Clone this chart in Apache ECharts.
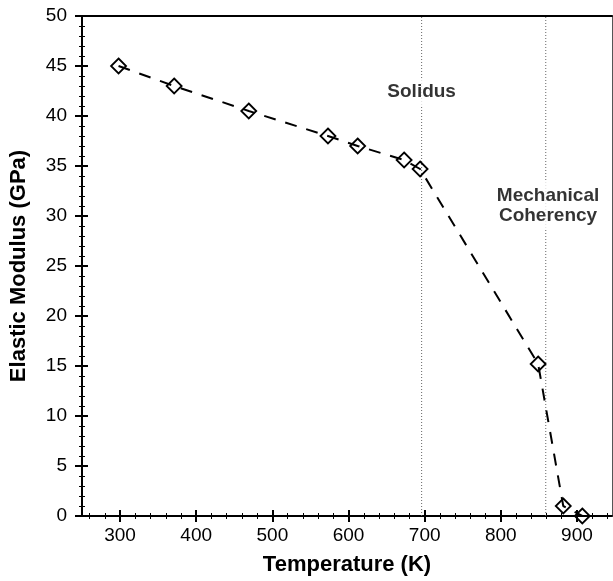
<!DOCTYPE html>
<html>
<head>
<meta charset="utf-8">
<script src="https://cdn.jsdelivr.net/npm/echarts@6/dist/echarts.min.js"></script>
<style>
  html, body { margin: 0; padding: 0; background: #fff; }
  #chart { width: 613px; height: 581px; }
</style>
</head>
<body>
<div id="chart"></div>
<script>
// Measured elastic modulus versus temperature
const temperatures = [298, 371, 469, 573, 612, 673, 694, 849, 882, 907];
const modulus = [45.0, 43.0, 40.5, 38.0, 37.0, 35.6, 34.7, 15.2, 1.0, 0.0];

// Reference temperatures drawn as dotted vertical lines
const refTemps = [696, 859];
const refNames = ['Solidus', 'Mechanical\nCoherency'];
// Where each reference label sits (temperature, modulus)
const refLabelAt = [[696, 42.4], [862, 31.0]];

// Axis tick values
const xMajorTicks = [300, 400, 500, 600, 700, 800, 900];
const xMinorTicks = [];
for (let t = 260; t <= 940; t += 20) xMinorTicks.push(t);

const FONT = '"Liberation Sans", Arial, Helvetica, sans-serif';
const X_MIN = 250, X_MAX = 946;

const chart = echarts.init(document.getElementById('chart'), null, { renderer: 'canvas' });

const hiddenLabel = { show: false };
const noLine = { show: false, onZero: false };

// Tick-only x axis: ticks at the given values, pointing in or out
function xTickAxis(values, inside, length, width) {
  return {
    type: 'value', position: 'bottom', min: X_MIN, max: X_MAX,
    axisLine: noLine, splitLine: { show: false }, axisLabel: hiddenLabel,
    axisTick: { show: true, inside: inside, length: length, customValues: values,
      lineStyle: { color: '#000', width: width } }
  };
}
// Tick-only y axis with a fixed interval from 0
function yTickAxis(interval, inside, length, width) {
  return {
    type: 'value', position: 'left', min: 0, max: 50, interval: interval,
    axisLine: noLine, splitLine: { show: false }, axisLabel: hiddenLabel,
    axisTick: { show: true, inside: inside, length: length,
      lineStyle: { color: '#000', width: width } }
  };
}

const refLineSeries = refTemps.map((t) => ({
  type: 'line',
  xAxisIndex: 0,
  yAxisIndex: 0,
  data: [[t, 0], [t, 50]],
  symbol: 'none',
  silent: true,
  z: 1,
  lineStyle: { color: '#666', width: 1, type: [1, 2] }
}));

const option = {
  animation: false,
  backgroundColor: '#fff',
  grid: { left: 82, right: 1, top: 16, bottom: 64, containLabel: false },
  xAxis: [
    {
      type: 'value', position: 'bottom', min: X_MIN, max: X_MAX,
      axisLine: { show: true, onZero: false, lineStyle: { color: '#000', width: 2 } },
      axisTick: { show: false },
      splitLine: { show: false },
      axisLabel: {
        customValues: xMajorTicks, color: '#000', fontFamily: FONT, fontSize: 19, margin: 10
      },
      name: 'Temperature (K)', nameLocation: 'middle', nameGap: 38,
      nameTextStyle: { color: '#000', fontFamily: FONT, fontSize: 22, fontWeight: 'bold' }
    },
    xTickAxis(xMajorTicks, false, 6, 2),
    xTickAxis(xMajorTicks, true, 6, 2),
    xTickAxis(xMinorTicks, false, 3, 1),
    xTickAxis(xMinorTicks, true, 3, 1),
    {
      type: 'value', position: 'top', min: X_MIN, max: X_MAX,
      axisLine: { show: true, onZero: false, lineStyle: { color: '#000', width: 2 } },
      axisTick: { show: false }, splitLine: { show: false }, axisLabel: hiddenLabel
    }
  ],
  yAxis: [
    {
      type: 'value', position: 'left', min: 0, max: 50, interval: 5,
      axisLine: { show: true, onZero: false, lineStyle: { color: '#000', width: 2 } },
      axisTick: { show: false },
      splitLine: { show: false },
      axisLabel: { color: '#000', fontFamily: FONT, fontSize: 19, margin: 15 },
      name: 'Elastic Modulus (GPa)', nameLocation: 'middle', nameGap: 52,
      nameTextStyle: { color: '#000', fontFamily: FONT, fontSize: 22, fontWeight: 'bold' }
    },
    yTickAxis(5, false, 7, 2),
    yTickAxis(5, true, 6, 2),
    yTickAxis(1, false, 3, 1),
    yTickAxis(1, true, 3, 1),
    {
      type: 'value', position: 'right', min: 0, max: 50,
      axisLine: { show: true, onZero: false, lineStyle: { color: '#555', width: 1 } },
      axisTick: { show: false }, splitLine: { show: false }, axisLabel: hiddenLabel
    }
  ],
  series: [
    ...refLineSeries,
    {
      type: 'scatter',
      xAxisIndex: 0,
      yAxisIndex: 0,
      symbolSize: 0,
      silent: true,
      z: 3,
      data: refLabelAt.map((p, i) => ({ value: p, name: refNames[i] })),
      label: {
        show: true,
        position: 'inside',
        formatter: (p) => p.name,
        color: '#000',
        fontFamily: FONT,
        fontSize: 19,
        fontWeight: 'bold',
        lineHeight: 20,
        align: 'center',
        backgroundColor: '#fff',
        padding: [4, 2, 4, 2]
      }
    },
    {
      type: 'line',
      xAxisIndex: 0,
      yAxisIndex: 0,
      z: 4,
      data: temperatures.map((t, i) => [t, modulus[i]]),
      symbol: 'diamond',
      symbolSize: 15,
      showAllSymbol: true,
      lineStyle: { color: '#000', width: 2, type: [12, 10] },
      itemStyle: { color: 'rgba(255,255,255,0)', borderColor: '#000', borderWidth: 1.8 }
    }
  ]
};

chart.setOption(option);
</script>
</body>
</html>
